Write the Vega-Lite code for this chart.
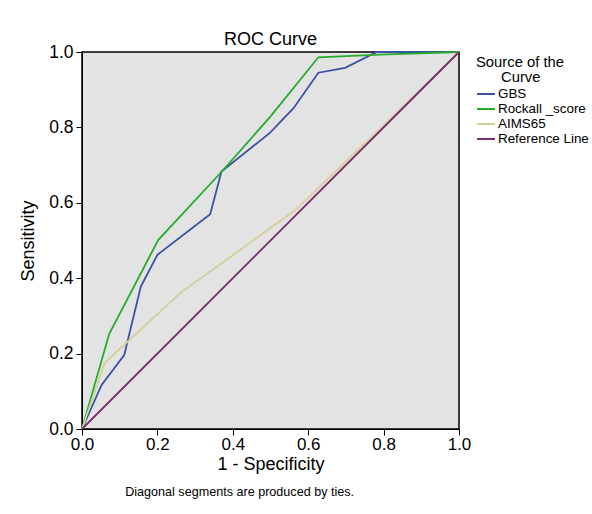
{
  "$schema": "https://vega.github.io/schema/vega-lite/v6.json",
  "autosize": "none",
  "width": 377,
  "height": 377,
  "padding": {"left": 82, "top": 52, "right": 133, "bottom": 85},
  "background": "white",
  "title": {"text": "ROC Curve", "fontSize": 18, "font": "Liberation Sans", "fontWeight": "normal", "color": "black", "anchor": "middle", "offset": -6},
  "config": {
    "font": "Liberation Sans",
    "view": {"stroke": "black", "strokeWidth": 1.5, "fill": "#e3e3e3"}
  },
  "layer": [
    {
      "data": {
        "values": [
          {"series": "GBS", "fpr": 0, "tpr": 0},
          {"series": "GBS", "fpr": 0.052, "tpr": 0.117},
          {"series": "GBS", "fpr": 0.112, "tpr": 0.196},
          {"series": "GBS", "fpr": 0.156, "tpr": 0.378},
          {"series": "GBS", "fpr": 0.2, "tpr": 0.462},
          {"series": "GBS", "fpr": 0.34, "tpr": 0.57},
          {"series": "GBS", "fpr": 0.37, "tpr": 0.683},
          {"series": "GBS", "fpr": 0.499, "tpr": 0.786},
          {"series": "GBS", "fpr": 0.561, "tpr": 0.851},
          {"series": "GBS", "fpr": 0.627, "tpr": 0.945},
          {"series": "GBS", "fpr": 0.698, "tpr": 0.958},
          {"series": "GBS", "fpr": 0.782, "tpr": 1.0},
          {"series": "GBS", "fpr": 1.0, "tpr": 1.0},
          {"series": "Rockall _score", "fpr": 0, "tpr": 0},
          {"series": "Rockall _score", "fpr": 0.072, "tpr": 0.252},
          {"series": "Rockall _score", "fpr": 0.202, "tpr": 0.501},
          {"series": "Rockall _score", "fpr": 0.371, "tpr": 0.683},
          {"series": "Rockall _score", "fpr": 0.499, "tpr": 0.828},
          {"series": "Rockall _score", "fpr": 0.627, "tpr": 0.986},
          {"series": "Rockall _score", "fpr": 0.79, "tpr": 0.993},
          {"series": "Rockall _score", "fpr": 1.0, "tpr": 1.0},
          {"series": "AIMS65", "fpr": 0, "tpr": 0},
          {"series": "AIMS65", "fpr": 0.06, "tpr": 0.175},
          {"series": "AIMS65", "fpr": 0.26, "tpr": 0.36},
          {"series": "AIMS65", "fpr": 0.565, "tpr": 0.58},
          {"series": "AIMS65", "fpr": 0.8, "tpr": 0.805},
          {"series": "AIMS65", "fpr": 1.0, "tpr": 1.0},
          {"series": "Reference Line", "fpr": 0, "tpr": 0},
          {"series": "Reference Line", "fpr": 1.0, "tpr": 1.0}
        ]
      },
      "mark": {"type": "line", "strokeWidth": 1.8},
      "encoding": {
        "x": {
          "field": "fpr", "type": "quantitative",
          "scale": {"domain": [0, 1], "nice": false},
          "axis": {"title": "1 - Specificity", "values": [0, 0.2, 0.4, 0.6, 0.8, 1.0], "format": ".1f", "grid": false,
            "domainColor": "black", "tickColor": "black", "tickSize": 6, "labelFontSize": 17, "labelColor": "black",
            "titleFontSize": 18, "titleFontWeight": "normal", "titleColor": "black", "labelPadding": 1, "titlePadding": 3, "labelFlush": false}
        },
        "y": {
          "field": "tpr", "type": "quantitative",
          "scale": {"domain": [0, 1], "nice": false},
          "axis": {"title": "Sensitivity", "values": [0, 0.2, 0.4, 0.6, 0.8, 1.0], "format": ".1f", "grid": false,
            "domainColor": "black", "tickColor": "black", "tickSize": 6, "labelFontSize": 17.5, "labelColor": "black",
            "titleFontSize": 18, "titleFontWeight": "normal", "titleColor": "black", "labelPadding": 3, "titlePadding": 11, "labelFlush": false}
        },
        "color": {
          "field": "series", "type": "nominal",
          "scale": {"domain": ["GBS", "Rockall _score", "AIMS65", "Reference Line"], "range": ["#3b50a6", "#22ad2c", "#d2d09a", "#7a2c6c"]},
          "legend": {"title": ["Source of the", "\u2800\u2800\u2009Curve"], "titleFontSize": 14.8, "titleFontWeight": "normal", "titleColor": "black",
            "titleAnchor": "start", "titleAlign": "left", "titleLineHeight": 15, "labelFontSize": 13.4, "labelColor": "black", "symbolType": "stroke",
            "symbolSize": 320, "symbolStrokeWidth": 2, "rowPadding": 0, "clipHeight": 14.3, "offset": 10, "padding": 3, "labelOffset": 2, "titlePadding": 2}
        }
      }
    },
    {
      "data": {"values": [{"note": "Diagonal segments are produced by ties."}]},
      "mark": {"type": "text", "fontSize": 12.6, "font": "Liberation Sans", "color": "black", "align": "center", "baseline": "middle"},
      "encoding": {
        "x": {"datum": 0.418},
        "y": {"datum": -0.167},
        "text": {"field": "note"}
      }
    }
  ]
}
